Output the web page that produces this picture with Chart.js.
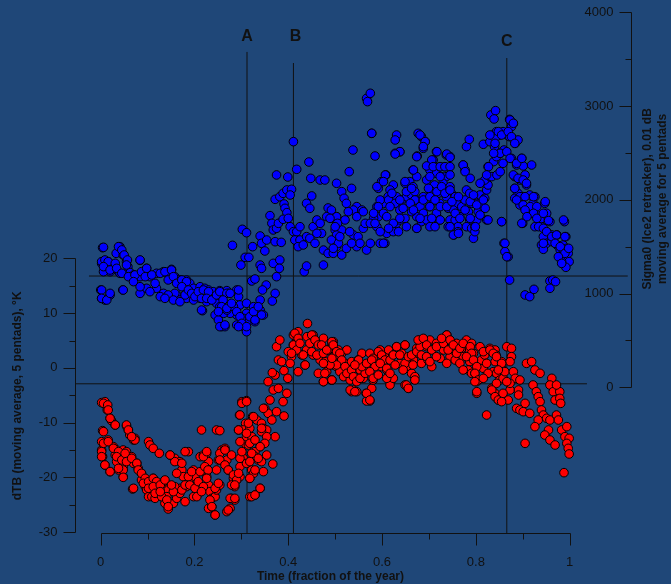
<!DOCTYPE html>
<html>
<head>
<meta charset="utf-8">
<script src="https://cdn.jsdelivr.net/npm/chart.js@4.4.1/dist/chart.umd.min.js"></script>
<style>
  html, body { margin: 0; padding: 0; background: #1f4778; }
  #wrap { width: 671px; height: 584px; }
</style>
</head>
<body>
<div id="wrap"><canvas id="chart" width="671" height="584"></canvas></div>
<script>
// ---------------------------------------- | Data

// Sigma0 (Ice2 retracker), 0.01 dB -- [time fraction, sigma0]
const sigmaPoints = [
  [0.004,1489],[0.041,1500],[0.033,1429],[0.048,1411],[0.009,1340],[0.002,1322],[0.016,1340],[0.027,1304],
  [0.055,1340],[0.058,1287],[0.034,1251],[0.020,1233],[0.006,1233],[0.041,1216],[0.063,1223],[0.070,1198],
  [0.084,1354],[0.084,1180],[0.098,1269],[0.105,1180],[0.119,1216],[0.134,1233],[0.151,1258],[0.148,1180],
  [0.158,1180],[0.169,1144],[0.183,1144],[0.176,1073],[0.190,1109],[0.198,1056],[0.212,1073],[0.222,1056],
  [0.230,1038],[0.240,1020],[0.254,1031],[0.269,1031],[0.272,1002],[0.290,1038],[0.294,967],[0.297,878],
  [0.311,896],[0.326,860],[0.329,789],[0.340,824],[0.347,771],[0.311,789],[0.304,736],[0.290,771],
  [0.276,789],[0.262,789],[0.244,771],[0.251,718],[0.258,647],[0.265,647],[0.290,664],[0.304,647],
  [0.311,593],[0.318,718],[0.329,700],[0.343,771],[0.000,1038],[0.002,949],[0.009,931],[0.020,985],
  [0.047,1038],[0.084,1002],[0.098,1056],[0.119,1056],[0.134,1002],[0.148,967],[0.162,985],[0.169,931],
  [0.183,949],[0.198,931],[0.212,949],[0.226,913],[0.240,931],[0.247,896],[0.254,860],[0.269,824],
  [0.283,860],[0.217,817],
  [0.281,1514],[0.302,1685],[0.311,1649],[0.324,1500],[0.308,1386],[0.316,1386],[0.299,1304],[0.340,1614],
  [0.343,1536],[0.350,1454],[0.354,1571],[0.361,1831],[0.365,1749],[0.368,1678],[0.375,1696],[0.379,1749],
  [0.372,1553],[0.385,1546],[0.340,1304],[0.343,1269],[0.368,1322],[0.382,1358],[0.381,1269],[0.375,1180],
  [0.322,1134],[0.329,1155],[0.353,1091],[0.345,1038],[0.372,1002],[0.366,920],[0.340,931],[0.375,2265],
  [0.399,2243],[0.418,2325],[0.411,2620],[0.444,2403],[0.372,2005],[0.382,2033],[0.389,2069],[0.397,2105],
  [0.407,2112],[0.404,2051],[0.391,1955],[0.393,1909],[0.397,1863],[0.389,1792],[0.400,1802],[0.404,1713],
  [0.411,1660],[0.418,1660],[0.425,1713],[0.414,1571],[0.425,1571],[0.421,1500],[0.434,1233],[0.439,1294],
  [0.432,1518],[0.439,1607],[0.446,1589],[0.453,1713],[0.450,2041],[0.448,2229],[0.468,2211],[0.478,2211],
  [0.439,1962],[0.446,1909],[0.461,1785],[0.468,1749],[0.471,1642],[0.461,1642],[0.457,1536],[0.485,1913],
  [0.482,1820],[0.493,1802],[0.503,1820],[0.500,1678],[0.507,1607],[0.503,1500],[0.475,1464],[0.485,1429],
  [0.496,1429],[0.475,1304],
  [0.567,3082],[0.575,3136],[0.569,3047],[0.578,2709],[0.538,2531],[0.530,2300],[0.503,2176],[0.514,2087],
  [0.535,2122],[0.519,2016],[0.524,1962],[0.546,1927],[0.557,1891],[0.539,1891],[0.528,1873],[0.521,1785],
  [0.503,1820],[0.492,1891],[0.489,1802],[0.514,1678],[0.503,1625],[0.492,1571],[0.507,1536],[0.496,1482],
  [0.514,1411],[0.524,1482],[0.539,1625],[0.549,1607],[0.560,1696],[0.564,1749],[0.546,1500],[0.567,1464],
  [0.553,1536],[0.575,1536],[0.589,1713],[0.592,1820],[0.582,1802],[0.589,1927],[0.603,1962],[0.596,1998],
  [0.592,2122],[0.599,2194],[0.608,2265],[0.624,2158],[0.617,2105],[0.613,2033],[0.603,1856],[0.596,1536],
  [0.606,1536],[0.610,1642],[0.624,1660],[0.631,1749],[0.638,1785],[0.638,1891],[0.642,1998],[0.652,2033],
  [0.649,2176],[0.659,2194],[0.666,2140],[0.663,2051],[0.670,2087],[0.674,1998],[0.681,1927],[0.674,1820],
  [0.688,1856],[0.684,1767],[0.674,1696],[0.652,1713],[0.649,1802],[0.631,2691],[0.628,2496],[0.638,2513],
  [0.677,2709],[0.684,2673],[0.692,2620],[0.688,2549],[0.675,2467],[0.666,2318],[0.674,2247],[0.695,2211],
  [0.702,2318],[0.709,2425],[0.716,2513],[0.708,2371],[0.716,2282],[0.727,2247],[0.723,2353],[0.737,2478],
  [0.745,2460],[0.734,2353],[0.737,2247],[0.730,2176],[0.712,2158],[0.702,2105],[0.720,2069],[0.734,2105],
  [0.745,2140],[0.748,2069],[0.737,2033],[0.723,1962],[0.709,1998],[0.702,1927],[0.716,1856],[0.709,1785],
  [0.723,1785],[0.741,1909],[0.756,2033],[0.759,1962],[0.752,1891],[0.745,1785],[0.741,1713],[0.756,1785],
  [0.766,1820],[0.762,1713],[0.770,1927],[0.777,1998],[0.773,2371],[0.777,2318],[0.780,2567],[0.786,2645],
  [0.780,2105],[0.787,2069],[0.791,1962],[0.784,1873],[0.787,1785],[0.780,1713],[0.791,1696],[0.798,1713],
  [0.802,1785],[0.805,1873],[0.802,1962],[0.809,2051],[0.812,1945],[0.819,2016],[0.823,2105],[0.826,2158],
  [0.819,2211],[0.830,2247],[0.826,2353],[0.816,2592],[0.823,1785],[0.826,1785],[0.795,1589],[0.798,1660],
  [0.762,1660],[0.753,1625],[0.838,2407],[0.844,2460],[0.852,2496],[0.860,2531],[0.840,2567],[0.830,2620],
  [0.837,2691],[0.852,2691],[0.844,2727],[0.858,2727],[0.832,2905],[0.842,2951],[0.839,2862],[0.872,2858],
  [0.880,2816],[0.876,2780],[0.866,2691],[0.872,2673],[0.884,2602],[0.890,2638],[0.858,2389],[0.876,2442],
  [0.898,2442],[0.887,2371],[0.901,2361],[0.919,2371],[0.883,2247],[0.894,2211],[0.905,2265],[0.883,2122],
  [0.890,2069],[0.901,2033],[0.915,2051],[0.908,2158],[0.883,2016],[0.894,1945],[0.905,1909],[0.922,1962],
  [0.926,2033],[0.912,1838],[0.930,1838],[0.947,1962],[0.951,1856],[0.937,1785],[0.926,1713],[0.940,1713],
  [0.958,1767],[0.951,1660],[0.962,1625],[0.944,1607],[0.973,1625],[0.940,1518],[0.951,1536],[0.962,1553],
  [0.944,1472],[0.973,1518],[0.980,1464],[0.986,1518],[0.994,1482],[0.997,1429],[0.986,1429],[0.980,1393],
  [0.990,1358],[0.999,1340],[0.983,1340],[0.992,1280],[0.989,1767],[0.992,1607],[0.900,1749],[0.855,1767],
  [0.860,1536],[0.862,1447],[0.869,1393],[0.872,1144],[0.905,985],[0.915,967],[0.924,1045],[0.958,1134],
  [0.964,1144],[0.970,1127],[0.958,1056],
  [0.505,1749],[0.531,1660],[0.546,1820],[0.560,1873],[0.575,1749],[0.510,1607],[0.535,1536],[0.500,1713],
  [0.631,2033],[0.663,1873],[0.688,2033],[0.695,1785],[0.702,1713],
  [0.006,1493],[0.038,1500],[0.045,1465],[0.050,1411],[0.057,1358],[0.055,1305],[0.002,1340],[0.009,1358],
  [0.016,1340],[0.031,1322],[0.006,1287],[0.020,1251],[0.034,1269],[0.045,1216],[0.059,1180],[0.073,1198],
  [0.070,1127],[0.084,1358],[0.087,1233],[0.098,1269],[0.095,1180],[0.109,1198],[0.084,1073],[0.105,1020],
  [0.116,1109],[0.127,1216],[0.137,1233],[0.144,1145],[0.151,1251],[0.155,1180],[0.162,1109],[0.173,1145],
  [0.183,1127],[0.173,1073],[0.158,1002],[0.144,985],[0.127,967],[0.137,949],[0.155,931],[0.169,913],
  [0.180,985],[0.187,1038],[0.194,1002],[0.201,967],[0.208,1020],[0.219,1038],[0.230,1020],[0.215,949],
  [0.226,949],[0.237,931],[0.247,985],[0.254,1020],[0.269,1002],[0.261,931],[0.258,860],[0.251,807],
  [0.269,842],[0.279,896],[0.290,807],[0.297,753],[0.301,682],[0.318,753],[0.326,807],[0.336,860],
  [0.329,718],[0.311,647],[0.294,647],[0.215,824],[0.294,1038],[0.276,1002],[0.048,1038],[0.002,1038],
  [0.002,949],[0.013,931],[0.020,1002],[0.254,647],[0.265,665],
  [0.578,2709],[0.585,2467],[0.628,2638],[0.638,2513],[0.628,2488],[0.681,2691],[0.692,2620],[0.688,2567],
  [0.674,2460],[0.717,2513],[0.738,2488],[0.745,2453],[0.706,2425],[0.695,2361],[0.709,2353],[0.724,2353],
  [0.734,2353],[0.745,2353],[0.667,2318],[0.702,2247],[0.724,2247],[0.745,2265],[0.773,2371],[0.777,2300],
  [0.788,2229],[0.809,2176],[0.827,2353],[0.834,2247],[0.845,2265],[0.852,2300],[0.841,2656],[0.848,2727],
  [0.855,2691],[0.830,2691],[0.841,2602],[0.852,2496],[0.838,2496],[0.866,2513],[0.873,2851],[0.880,2816],
  [0.869,2727],[0.876,2673],[0.883,2602],[0.873,2442],[0.887,2389],[0.898,2442],[0.880,2265],[0.890,2229],
  [0.901,2211],[0.908,2176],[0.883,2122],[0.894,2033],[0.905,2033],[0.923,2033],[0.887,1998],[0.901,1945],
  [0.916,1927],[0.930,1927],[0.905,1891],[0.923,1856],[0.909,1820],[0.930,1802],[0.944,1856],[0.948,1980],
  [0.955,1778],[0.934,1713],[0.944,1696],[0.951,1660],[0.962,1607],[0.972,1625],[0.987,1785],[0.969,1536],
  [0.980,1500],[0.944,1536],[0.990,1607],[0.990,1429],[0.976,1393],[0.983,1322],[0.998,1482],[0.823,2265],
  [0.855,1767],[0.862,1536],[0.866,1393],[0.898,1749],
  [0.589,2140],[0.592,1927],[0.582,1856],[0.585,1749],[0.596,1660],[0.607,2265],[0.603,2194],[0.614,1998],
  [0.621,2069],[0.628,1962],[0.617,1927],[0.610,1820],[0.624,1749],[0.614,1696],[0.635,1660],[0.603,1536],
  [0.638,1802],[0.645,1909],[0.638,1998],[0.649,2194],[0.652,2087],[0.663,2122],[0.670,1998],[0.660,1962],
  [0.667,1891],[0.681,1802],[0.674,1696],[0.688,1998],[0.702,2033],[0.699,2122],[0.717,2087],[0.727,2140],
  [0.734,2069],[0.713,1998],[0.702,1927],[0.724,1927],[0.738,1927],[0.749,1980],[0.763,2033],[0.756,1856],
  [0.766,1802],[0.777,1891],[0.788,1980],[0.795,2051],[0.802,1945],[0.816,1998],[0.820,1909],[0.809,1838],
  [0.788,1802],[0.799,1713],[0.752,1624],[0.763,1642],[0.745,2104],[0.745,1713],[0.724,1785],[0.713,1713],
  [0.706,1802]
]

// dTB (moving average, 5 pentads), K -- [time fraction, dTB]
const dtbPoints = [
  [0.002,-6.34],[0.009,-6.16],[0.013,-6.95],[0.014,-7.68],[0.020,-9.2],[0.023,-9.63],[0.031,-10.42],[0.004,-11.45],
  [0.002,-13.46],[0.016,-13.16],[0.002,-14.98],[0.004,-16.2],[0.009,-17.72],[0.020,-18.93],[0.027,-14.37],[0.034,-14.98],
  [0.041,-15.9],[0.048,-14.98],[0.031,-15.9],[0.034,-17.11],[0.048,-18.02],[0.038,-18.63],[0.048,-19.85],[0.055,-10.6],
  [0.059,-11.33],[0.062,-12.25],[0.070,-13.16],[0.073,-12.85],[0.055,-15.29],[0.066,-16.2],[0.070,-17.42],[0.077,-17.42],
  [0.080,-18.33],[0.087,-19.24],[0.087,-20.46],[0.095,-21.67],[0.098,-22.28],[0.102,-23.5],[0.068,-22.1],[0.102,-13.46],
  [0.105,-14.07],[0.112,-14.68],[0.125,-15.59],[0.112,-20.16],[0.119,-21.06],[0.127,-21.37],[0.112,-22.28],[0.109,-23.5],
  [0.116,-23.8],[0.127,-22.89],[0.137,-21.98],[0.134,-20.76],[0.148,-15.9],[0.158,-16.5],[0.169,-17.11],[0.173,-18.63],
  [0.176,-19.85],[0.169,-21.98],[0.158,-21.67],[0.144,-22.28],[0.141,-23.5],[0.137,-24.71],[0.144,-25.75],[0.155,-24.71],
  [0.162,-23.8],[0.169,-22.89],[0.180,-24.41],[0.183,-21.67],[0.190,-20.16],[0.187,-15.29],[0.198,-18.63],[0.201,-19.85],
  [0.205,-21.37],[0.208,-22.89],[0.198,-23.5],[0.215,-11.33],[0.212,-16.2],[0.219,-15.9],[0.226,-15.59],[0.230,-17.11],
  [0.222,-18.63],[0.226,-19.85],[0.230,-21.37],[0.233,-22.58],[0.237,-23.8],[0.230,-25.63],[0.244,-26.84],[0.237,-25.32],
  [0.244,-23.5],[0.247,-22.28],[0.254,-21.37],[0.247,-18.63],[0.251,-16.81],[0.258,-14.98],[0.265,-14.68],[0.269,-16.81],
  [0.272,-18.63],[0.279,-15.9],[0.283,-20.16],[0.290,-20.46],[0.297,-19.85],[0.286,-21.67],[0.269,-26.23],[0.276,-25.63],
  [0.279,-23.8],[0.286,-24.11],[0.247,-11.33],[0.254,-11.45],[0.294,-11.33],[0.297,-18.02],[0.304,-16.5],[0.308,-13.77],
  [0.311,-12.55],[0.309,-10.12],[0.301,-6.16],[0.311,-5.98],[0.296,-8.6],[0.304,-11.33],[0.318,-11.03],[0.322,-12.55],
  [0.315,-14.07],[0.311,-17.42],[0.322,-18.63],[0.318,-20.16],[0.326,-19.24],[0.340,-21.98],[0.318,-23.5],[0.329,-23.2],
  [0.324,-8.9],[0.333,-9.51],[0.343,-10.12],[0.347,-11.03],[0.354,-11.33],[0.343,-11.64],[0.350,-7.38],[0.357,-8.29],
  [0.365,-9.51],[0.372,-12.55],[0.354,-12.55],[0.340,-14.37],[0.329,-15.29],[0.336,-16.81],[0.343,-17.11],[0.354,-15.9],
  [0.350,-13.77],[0.326,-15.9],[0.347,-18.93],[0.367,-17.54],[0.375,-7.99],[0.361,-5.86],[0.389,-6.16],[0.391,-8.78],
  [0.397,-4.64],[0.368,-4.03],[0.379,-3.73],[0.357,-2.51],[0.372,-1.3],[0.366,-0.87],[0.391,-0.5],[0.399,-1.9],
  [0.379,1.44],[0.386,1.14],[0.375,3.87],[0.400,2.96],[0.407,2.05],[0.404,0.83],[0.418,5.09],[0.411,6.0],
  [0.421,6.61],[0.436,0.53],[0.429,2.35],[0.439,3.27],[0.450,4.79],[0.453,6.0],[0.464,4.48],[0.468,1.44],
  [0.478,1.14],[0.482,-0.69],[0.475,-2.51],[0.492,-2.21],[0.496,0.53],[0.500,2.35],[0.485,3.27],[0.496,4.79],
  [0.507,3.27],[0.453,2.35],[0.475,5.4],[0.443,5.7],[0.411,4.18],[0.421,-0.69],[0.382,5.09],
  [0.493,4.48],[0.496,1.14],[0.493,-2.21],[0.503,0.23],[0.514,2.66],[0.521,0.83],[0.510,-0.69],[0.518,-1.6],
  [0.532,-2.21],[0.539,-4.03],[0.546,-4.34],[0.535,-4.34],[0.566,-4.64],[0.574,-6.04],[0.567,-6.04],[0.578,-3.73],
  [0.581,-2.21],[0.560,-1.9],[0.553,-0.38],[0.535,1.14],[0.549,1.44],[0.557,2.66],[0.567,0.23],[0.589,0.83],
  [0.592,2.66],[0.596,3.27],[0.606,2.05],[0.599,0.23],[0.610,-0.38],[0.620,-2.21],[0.617,-3.12],[0.624,-1.9],
  [0.631,3.87],[0.649,4.18],[0.642,2.66],[0.638,0.83],[0.649,-3.12],[0.656,-3.73],[0.663,-0.99],[0.670,-1.6],
  [0.667,1.44],[0.659,0.53],[0.677,2.66],[0.681,5.09],[0.692,5.09],[0.702,5.09],[0.695,3.87],[0.684,0.83],
  [0.698,1.44],[0.706,0.23],[0.716,4.48],[0.731,4.79],[0.738,6.0],[0.741,5.09],[0.731,3.27],[0.745,2.05],
  [0.756,1.44],[0.759,4.48],[0.770,3.57],[0.773,2.05],[0.780,5.09],[0.791,4.48],[0.795,2.66],[0.787,1.14],
  [0.784,-0.38],[0.791,-0.99],[0.798,-0.99],[0.802,-2.51],[0.802,-4.64],[0.823,-8.6],[0.805,0.53],[0.816,-0.08],
  [0.812,1.44],[0.819,2.35],[0.830,3.57],[0.841,3.27],[0.843,2.35],[0.841,1.14],[0.837,-0.69],[0.844,-0.99],
  [0.834,-3.73],[0.841,-4.64],[0.848,-5.86],[0.855,1.14],[0.855,-0.08],[0.851,-2.21],[0.858,-1.9],[0.862,-0.69],
  [0.866,3.87],[0.876,3.57],[0.876,2.05],[0.873,1.14],[0.880,-0.69],[0.884,-1.9],[0.869,-5.86],[0.873,-4.03],
  [0.891,-4.03],[0.894,-2.21],[0.891,-4.95],[0.887,-7.38],[0.894,-7.68],[0.901,-7.99],[0.905,-6.47],[0.915,-8.29],
  [0.908,0.83],[0.919,1.14],[0.926,-0.38],[0.937,-0.99],[0.922,-3.12],[0.929,-4.34],[0.933,-5.25],[0.937,-6.16],
  [0.940,-7.68],[0.944,-8.6],[0.933,-9.51],[0.926,-10.72],[0.951,-9.2],[0.958,-9.51],[0.955,-11.33],[0.947,-12.25],
  [0.958,-13.16],[0.969,-14.07],[0.962,-1.9],[0.958,-3.12],[0.965,-4.34],[0.979,-4.34],[0.972,-3.12],[0.969,-5.86],
  [0.979,-5.56],[0.981,-6.47],[0.972,-8.6],[0.976,-9.51],[0.983,-11.33],[0.994,-10.72],[0.990,-12.55],[0.999,-12.85],
  [0.994,-13.77],[0.997,-14.68],[0.999,-15.71],[0.988,-19.12],[0.905,-13.77],
  [0.525,3.27],[0.574,2.66],[0.581,1.75],[0.614,3.27],[0.624,2.35],[0.652,0.23],[0.674,3.57],[0.724,1.75],
  [0.738,0.83],[0.752,3.27],[0.766,0.83],[0.773,-0.38],[0.787,3.27],[0.809,3.87],[0.823,0.83],[0.826,-0.99],
  [0.844,-2.82],[0.873,-2.82],
  [0.441,8.1],[0.414,6.31],[0.421,5.39],[0.411,4.18],[0.418,3.27],[0.407,2.66],[0.432,2.35],[0.436,0.53],
  [0.425,4.48],[0.440,5.7],[0.450,6.0],[0.446,4.48],[0.457,5.09],[0.464,4.18],[0.471,4.18],[0.450,2.96],
  [0.461,2.35],[0.475,2.66],[0.482,3.27],[0.493,4.79],[0.496,4.18],[0.503,2.96],[0.510,2.66],[0.514,1.44],
  [0.503,0.53],[0.489,0.53],[0.475,0.83],[0.464,-0.99],[0.478,-0.99],[0.493,-2.21],[0.475,-2.51],[0.493,1.75],
  [0.521,0.23],[0.525,-0.99],[0.535,-0.38],[0.539,-1.6],[0.546,-2.51],[0.532,-4.03],[0.542,-4.34],[0.553,-1.9],
  [0.564,-0.99],[0.557,0.23],[0.550,1.44],[0.542,0.53],[0.567,0.83],[0.578,1.44],[0.585,0.23],[0.574,-0.69],
  [0.581,-1.9],[0.567,-4.64],[0.574,-5.86],[0.592,2.96],[0.599,2.35],[0.606,1.44],[0.596,0.83],[0.610,-0.08],
  [0.592,-1.3],[0.610,-1.9],[0.617,1.44],[0.624,2.35],[0.628,0.53],[0.617,-0.99],[0.631,3.87],[0.649,4.18],
  [0.638,2.35],[0.649,0.83],[0.645,-0.38],[0.656,2.05],[0.666,0.53],[0.670,-2.21],[0.652,-3.12],[0.656,-3.73],
  [0.663,2.35],[0.674,2.96],[0.681,3.87],[0.677,5.09],[0.688,5.39],[0.695,4.18],[0.684,2.35],[0.695,2.05],
  [0.706,3.27],[0.702,1.14],[0.716,2.05],[0.716,3.87],[0.731,4.48],[0.738,6.0],[0.727,5.39],[0.745,5.09],
  [0.741,3.27],[0.752,4.18],[0.759,2.66],[0.766,3.57],[0.773,4.48],[0.788,3.87],[0.791,2.66],[0.780,2.05],
  [0.795,1.44],[0.802,0.23],[0.798,-0.99],[0.805,-2.21],[0.798,-2.51],[0.816,-1.9],[0.802,-4.34],[0.816,2.96],
  [0.830,3.27],[0.837,2.66],[0.844,2.05],[0.855,0.83],[0.848,-0.38],[0.834,-4.03],[0.841,-5.25],[0.848,-5.86],
  [0.858,-4.64],[0.855,-6.16],[0.866,-2.51],
  [0.006,-6.46],[0.015,-6.77],[0.016,-7.68],[0.020,-9.2],[0.031,-10.42],[0.006,-11.63],[0.055,-10.42],[0.059,-11.33],
  [0.073,-13.15],[0.066,-12.55],[0.006,-13.76],[0.016,-13.46],[0.002,-15.28],[0.002,-16.2],[0.009,-17.72],[0.020,-18.93],
  [0.027,-14.67],[0.038,-15.28],[0.034,-16.2],[0.045,-16.8],[0.052,-15.6],[0.055,-17.1],[0.066,-16.5],[0.077,-17.4],
  [0.080,-18.63],[0.048,-18.63],[0.038,-18.33],[0.048,-19.97],[0.070,-21.97],[0.087,-19.24],[0.095,-20.15],[0.091,-21.06],
  [0.102,-20.76],[0.102,-21.97],[0.112,-20.15],[0.119,-20.76],[0.112,-21.67],[0.127,-21.37],[0.137,-20.45],[0.116,-22.89],
  [0.130,-23.5],[0.141,-24.1],[0.144,-25.32],[0.127,-22.58],[0.155,-22.58],[0.151,-21.37],[0.162,-19.24],[0.158,-17.1],
  [0.148,-15.9],[0.173,-17.4],[0.180,-15.28],[0.173,-22.28],[0.180,-21.37],[0.187,-19.85],[0.194,-18.93],[0.190,-21.37],
  [0.201,-21.97],[0.208,-20.76],[0.212,-18.93],[0.219,-16.2],[0.226,-15.28],[0.222,-18.02],[0.229,-18.63],[0.226,-20.15],
  [0.219,-21.67],[0.205,-23.5],[0.215,-22.58],[0.233,-24.1],[0.237,-25.32],[0.244,-26.84],[0.244,-21.97],[0.251,-21.06],
  [0.254,-15.6],[0.265,-14.98],[0.254,-16.8],[0.265,-17.72],[0.272,-18.63],[0.283,-19.54],[0.290,-20.45],[0.294,-19.24],
  [0.279,-21.37],[0.286,-21.37],[0.276,-23.8],[0.286,-23.8],[0.272,-25.93],[0.297,-16.5],[0.301,-15.28],[0.297,-13.46],
  [0.294,-11.33],[0.297,-8.59],[0.301,-6.46],[0.311,-6.16],[0.315,-10.1],[0.311,-11.94],[0.318,-13.76],[0.322,-15.6],
  [0.318,-17.1],[0.329,-18.63],[0.318,-20.15],[0.322,-23.5],[0.329,-23.2],[0.340,-21.97],[0.336,-16.5],[0.340,-14.37],
  [0.329,-13.15],[0.326,-8.9],[0.343,-11.03],[0.347,-7.38]
]

const timeTicks = [0, 0.2, 0.4, 0.6, 0.8, 1]
const timeMinor = [0.1, 0.3, 0.5, 0.7, 0.9]
const dtbTicks = [-30, -20, -10, 0, 10, 20]
const dtbMinor = [-25, -15, -5, 5, 15]
const sigmaTicks = [0, 1000, 2000, 3000, 4000]
const sigmaMinor = [500, 1500, 2500, 3500]

const dtbMean = -2.9
const sigmaMean = 1187

// event markers: label, time, top of line (sigma units)
const eventNames = ["A", "B", "C"]
const eventTimes = [0.312, 0.411, 0.866]
const eventTops = [3577, 3459, 3512]
const eventLabelY = [3737, 3737, 3686]

// ---------------------------------------- | Chart

const ink = "#111"
const X_MIN = -0.0548, X_MAX = 1.1309

const lineSet = (data, axis) => ({
  type: "line",
  data,
  yAxisID: axis,
  borderColor: ink,
  borderWidth: 1,
  pointRadius: 0,
  fill: false,
  order: 5
})

const datasets = [
  {
    label: "Sigma0",
    data: sigmaPoints.map(([x, y]) => ({ x, y })),
    yAxisID: "y2",
    backgroundColor: "#0000ff",
    borderColor: "#000",
    borderWidth: 1,
    pointRadius: 4.3,
    order: 1
  },
  {
    label: "dTB",
    data: dtbPoints.map(([x, y]) => ({ x, y })),
    yAxisID: "y",
    backgroundColor: "#ff0000",
    borderColor: "#000",
    borderWidth: 1,
    pointRadius: 4.3,
    order: 2
  },
  lineSet([{ x: X_MIN, y: dtbMean }, { x: 1.037, y: dtbMean }], "y"),
  lineSet([{ x: -0.025, y: sigmaMean }, { x: 1.124, y: sigmaMean }], "y2"),
  ...eventTimes.map((t, i) => lineSet([{ x: t, y: -1554 }, { x: t, y: eventTops[i] }], "y2"))
]

const axesPlugin = {
  id: "axes",
  afterDraw(chart) {
    const ctx = chart.ctx
    const { x, y, y2 } = chart.scales
    const area = chart.chartArea
    const px = v => Math.round(v) + 0.5
    ctx.save()
    ctx.strokeStyle = ink
    ctx.fillStyle = ink
    ctx.lineWidth = 1

    // bottom axis
    const by = px(area.bottom)
    ctx.beginPath()
    ctx.moveTo(px(x.getPixelForValue(0)), by)
    ctx.lineTo(px(x.getPixelForValue(1)), by)
    timeTicks.forEach(t => { const p = px(x.getPixelForValue(t)); ctx.moveTo(p, by); ctx.lineTo(p, by + 12) })
    timeMinor.forEach(t => { const p = px(x.getPixelForValue(t)); ctx.moveTo(p, by); ctx.lineTo(p, by + 6) })

    // left axis
    const lx = px(area.left)
    ctx.moveTo(lx, px(y.getPixelForValue(20)))
    ctx.lineTo(lx, px(y.getPixelForValue(-30)))
    dtbTicks.forEach(v => { const p = px(y.getPixelForValue(v)); ctx.moveTo(lx, p); ctx.lineTo(lx - 12, p) })
    dtbMinor.forEach(v => { const p = px(y.getPixelForValue(v)); ctx.moveTo(lx, p); ctx.lineTo(lx - 6, p) })

    // right axis
    const rx = px(area.right)
    ctx.moveTo(rx, px(y2.getPixelForValue(4000)))
    ctx.lineTo(rx, px(y2.getPixelForValue(0)))
    sigmaTicks.forEach(v => { const p = px(y2.getPixelForValue(v)); ctx.moveTo(rx, p); ctx.lineTo(rx - 12, p) })
    sigmaMinor.forEach(v => { const p = px(y2.getPixelForValue(v)); ctx.moveTo(rx, p); ctx.lineTo(rx - 6, p) })
    ctx.stroke()

    // tick labels
    ctx.font = "13px 'Liberation Sans', Arial, sans-serif"
    ctx.textAlign = "center"
    ctx.textBaseline = "middle"
    timeTicks.forEach(t => ctx.fillText(String(t), x.getPixelForValue(t), area.bottom + 29))
    ctx.textAlign = "right"
    dtbTicks.forEach(v => ctx.fillText(String(v), lx - 18, y.getPixelForValue(v)))
    sigmaTicks.forEach(v => ctx.fillText(String(v), rx - 18, y2.getPixelForValue(v)))

    // titles
    ctx.font = "bold 12px 'Liberation Sans', Arial, sans-serif"
    ctx.textAlign = "center"
    ctx.fillText("Time (fraction of the year)", x.getPixelForValue(0.49), area.bottom + 44)
    ctx.save()
    ctx.translate(18, y.getPixelForValue(-5.1))
    ctx.rotate(-Math.PI / 2)
    ctx.fillText("dTB (moving average, 5 pentads), °K", 0, 0)
    ctx.restore()
    ctx.save()
    ctx.translate(655, y2.getPixelForValue(2010))
    ctx.rotate(-Math.PI / 2)
    ctx.fillText("Sigma0 (Ice2 retracker), 0.01 dB", 0, -7)
    ctx.fillText("moving average for 5 pentads", 0, 8)
    ctx.restore()

    // event labels
    ctx.font = "bold 16px 'Liberation Sans', Arial, sans-serif"
    eventNames.forEach((n, i) => {
      ctx.fillText(n, x.getPixelForValue(eventTimes[i]) + (i === 1 ? 2 : 0), y2.getPixelForValue(eventLabelY[i]))
    })
    ctx.restore()
  }
}

new Chart(document.getElementById("chart").getContext("2d"), {
  type: "scatter",
  data: { datasets },
  options: {
    responsive: false,
    animation: false,
    layout: { padding: { left: 75, right: 40, top: 12, bottom: 51 } },
    plugins: { legend: { display: false }, tooltip: { enabled: false } },
    scales: {
      x: { type: "linear", min: X_MIN, max: X_MAX, display: false },
      y: { type: "linear", min: -30.13, max: 64.95, display: false },
      y2: { type: "linear", min: -1554, max: 4003, display: false }
    }
  },
  plugins: [axesPlugin]
})
</script>
</body>
</html>
